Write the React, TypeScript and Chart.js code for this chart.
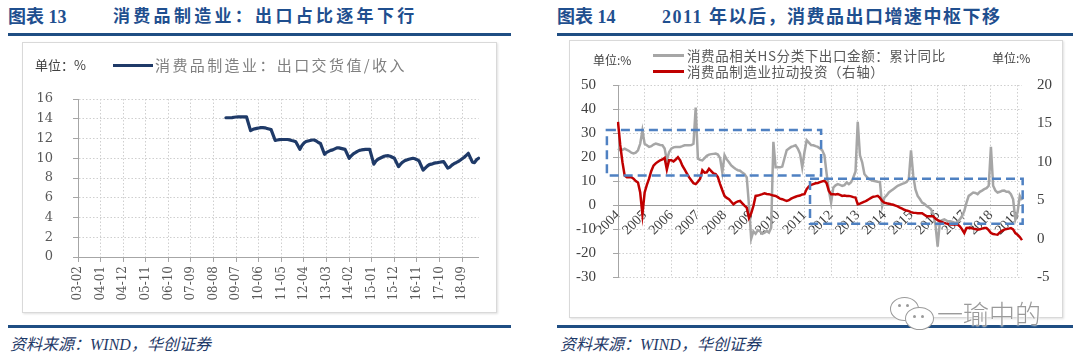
import React, { useEffect, useRef } from 'react';
import { Chart, registerables } from 'chart.js';

Chart.register(...registerables);

// ================= Chart 13 (left) data =================
const LEFT_FIRST_MONTH = [2003, 2];
const LEFT_LAST_MONTH = [2019, 5];
const LEFT_TICK_LABELS = [
  '03-02', '04-01', '04-12', '05-11', '06-10', '07-09', '08-08', '09-07', '10-06',
  '11-05', '12-04', '13-03', '14-02', '15-01', '15-12', '16-11', '17-10', '18-09',
];
const LEFT_Y_TICKS = [0, 2, 4, 6, 8, 10, 12, 14, 16];
const EXPORT_RATIO_FIRST = '09-01';
// 消费品制造业：出口交货值/收入 (%), monthly from 2009-01 (January not published)
const EXPORT_RATIO = [
  null, 14.1, 14.1, 14.1, 14.12, 14.15, 14.18, 14.2, 14.2, 14.2, 14.2, 14.2,
  null, 12.8, 12.9, 12.98, 13.02, 13.06, 13.1, 13.1, 13.08, 13.02, 12.96, 12.9,
  null, 11.8, 11.85, 11.88, 11.9, 11.9, 11.9, 11.9, 11.86, 11.8, 11.75, 11.68,
  null, 10.9, 11.3, 11.55, 11.7, 11.75, 11.8, 11.85, 11.85, 11.75, 11.6, 11.5,
  null, 10.4, 10.6, 10.7, 10.8, 10.85, 10.95, 11.05, 11.05, 11.0, 10.95, 10.9,
  null, 10.0, 10.25, 10.45, 10.57, 10.7, 10.8, 10.84, 10.87, 10.9, 10.9, 10.9,
  null, 9.4, 9.7, 9.9, 10.0, 10.1, 10.2, 10.25, 10.26, 10.2, 10.1, 10.0,
  null, 9.15, 9.4, 9.6, 9.75, 9.83, 9.9, 9.95, 10.0, 9.95, 9.85, 9.73,
  null, 8.8, 9.0, 9.2, 9.35, 9.4, 9.48, 9.53, 9.56, 9.6, 9.64, 9.66,
  null, 9.0, 9.1, 9.3, 9.45, 9.55, 9.66, 9.8, 9.95, 10.1, 10.3, 10.5,
  null, 9.6, 9.55, 9.85, 10.0,
];

// ================= Chart 14 (right) data =================
const RIGHT_FIRST_MONTH = [2004, 1];
const RIGHT_LAST_MONTH = [2019, 3];
const RIGHT_TICK_LABELS = [
  '2004', '2005', '2006', '2007', '2008', '2009', '2010', '2011',
  '2012', '2013', '2014', '2015', '2016', '2017', '2018', '2019',
];
// 消费品相关HS分类下出口金额：累计同比 (%, left axis), monthly from 2004-01
const HS_EXPORT_YOY = [
  23.5, 22.8, 23.0, 23.5, 23.0, 22.5, 21.8, 21.5, 21.8, 22.8, 25.5, 31.0,
  25.5, 24.9, 24.2, 24.5, 25.2, 25.6, 25.3, 25.0, 24.9, 23.5, 18.6, 22.0,
  23.5, 24.0, 24.2, 24.2, 24.2, 24.5, 24.9, 24.9, 24.9, 25.0, 25.5, 40.6,
  19.3, 18.8, 18.6, 19.5, 20.5, 21.0, 21.2, 21.3, 21.4, 21.0, 19.5, 13.6,
  20.7, 19.0, 17.8, 16.5, 15.7, 15.0, 14.5, 14.3, 13.5, 12.9, 11.5, 0.0,
  -14.0, -11.0, -12.0, -10.5, -11.0, -12.0, -11.5, -10.8, -11.5, -9.5, 26.3, 15.7,
  15.7, 15.7, 16.0, 19.5, 22.8, 23.5, 24.2, 24.5, 24.9, 23.5, 21.4, 15.7,
  22.0, 27.0, 26.0, 25.0, 24.9, 24.5, 24.2, 23.5, 22.8, 20.7, 13.0, 6.0,
  1.0, 7.3, 8.2, 8.7, 8.4, 8.0, 8.3, 9.4, 8.7, 9.5, 11.5, 14.0,
  34.7, 20.7, 17.8, 12.9, 11.8, 10.8, 10.4, 10.1, 9.9, 9.7, 9.6, -0.4,
  3.1, 4.0, 5.2, 5.9, 6.6, 7.3, 8.0, 8.4, 8.8, 9.1, 9.6, 10.8,
  22.8, 12.2, 6.5, 3.8, 2.5, 1.0, 0.5, -0.4, -1.0, -1.8, -3.9, -8.1,
  -17.3, -6.8, -6.3, -6.0, -6.5, -6.8, -6.9, -7.2, -7.5, -7.0, -6.0, -4.6,
  -2.5, 1.0, 3.8, 4.5, 5.2, 5.0, 4.5, 5.5, 6.0, 6.6, 7.0, 8.0,
  24.2, 8.0, 6.0, 5.2, 5.5, 5.9, 6.0, 5.5, 5.5, 4.5, 2.4, -6.0,
  -3.0, 3.8, 2.0,
];
// 消费品制造业拉动投资（右轴）(%), monthly from 2004-01
const CONSUMER_INVEST_PULL = [
  15.2, 12.2, 9.95, 8.2, 8.0, 8.0, 7.98, 7.8, 7.5, 7.3, 6.0, 3.15,
  6.0, 7.0, 7.8, 8.8, 9.5, 9.8, 10.0, 10.2, 10.3, 10.5, 9.0, 10.2,
  10.2, 10.05, 10.3, 10.6, 10.2, 9.5, 9.0, 8.5, 8.0, 7.6, 7.2, 7.1,
  7.4, 7.8, 8.9, 8.6, 8.64, 9.1, 8.8, 8.5, 8.4, 8.0, 7.1, 6.3,
  5.56, 5.3, 5.13, 4.8, 4.47, 4.7, 4.85, 4.9, 4.6, 4.3, 4.02, 2.7,
  3.3, 4.24, 5.56, 5.6, 5.7, 5.79, 5.9, 5.8, 5.79, 5.7, 5.6, 5.56,
  5.4, 5.2, 5.13, 5.0, 4.9, 5.0, 5.2, 5.34, 5.45, 5.56, 5.6, 5.75,
  5.79, 6.45, 6.8, 7.0, 7.1, 7.2, 7.24, 7.35, 7.45, 7.54, 7.2, 6.2,
  5.79, 5.79, 5.75, 5.79, 5.7, 5.56, 5.6, 5.56, 5.56, 5.5, 5.4, 5.34,
  4.47, 4.55, 4.68, 4.8, 4.95, 5.13, 5.3, 5.45, 5.5, 5.56, 5.3, 4.9,
  4.68, 4.6, 4.55, 4.47, 4.4, 4.3, 4.2, 4.02, 3.9, 3.75, 3.65, 3.58,
  3.45, 3.36, 3.35, 3.3, 3.3, 3.3, 3.1, 2.92, 2.92, 2.9, 2.92, 2.6,
  2.4, 2.26, 2.15, 2.04, 1.95, 1.9, 1.83, 1.83, 1.85, 1.83, 1.6, 1.2,
  0.72, 1.38, 1.4, 1.38, 1.3, 1.25, 1.17, 1.2, 1.3, 1.38, 1.38, 1.1,
  0.72, 0.6, 0.55, 0.51, 0.8, 1.0, 1.17, 1.25, 1.3, 1.38, 1.2, 0.72,
  0.5, 0.2, -0.2,
];
const RIGHT_Y_LEFT_TICKS = [-30, -20, -10, 0, 10, 20, 30, 40, 50];
const RIGHT_Y_RIGHT_TICKS = [-5, 0, 5, 10, 15, 20];
// Dashed highlight boxes (x in month-index units from 2004-01, y on left axis)
const BOX_X_START = [-5, 86.5];
const BOX_X_END = [91.5, 182.3];
const BOX_Y_TOP = [31.2, 10.9];
const BOX_Y_BOTTOM = [12.3, -7.8];

// ================= helpers =================
function monthRange(first: number[], last: number[], longYear: boolean): string[] {
  const out: string[] = [];
  let [y, m] = first;
  while (y < last[0] || (y === last[0] && m <= last[1])) {
    const yy = longYear ? String(y) : String(y % 100).padStart(2, '0');
    out.push(`${yy}-${String(m).padStart(2, '0')}`);
    m += 1;
    if (m > 12) { m = 1; y += 1; }
  }
  return out;
}

const NAVY = '#1f3a68';
const TITLE_BLUE = '#1f4f8f';
const RULE_BLUE = '#1f4e83';
const GRID = '#cfcfcf';
const AXIS = '#a6a6a6';

const LEFT_CATEGORIES = monthRange(LEFT_FIRST_MONTH, LEFT_LAST_MONTH, false);
const RIGHT_CATEGORIES = monthRange(RIGHT_FIRST_MONTH, RIGHT_LAST_MONTH, true);

function LeftChart() {
  const ref = useRef<HTMLCanvasElement | null>(null);
  useEffect(() => {
    if (!ref.current) return;
    const start = LEFT_CATEGORIES.indexOf(EXPORT_RATIO_FIRST);
    const data = LEFT_CATEGORIES.map((_, i) =>
      i >= start && i - start < EXPORT_RATIO.length ? EXPORT_RATIO[i - start] : null
    );
    const isLabeled = (i: number) => LEFT_TICK_LABELS.includes(LEFT_CATEGORIES[i]);
    const chart = new Chart(ref.current, {
      type: 'line',
      data: {
        labels: LEFT_CATEGORIES,
        datasets: [
          {
            label: '消费品制造业：出口交货值/收入',
            data,
            borderColor: NAVY,
            borderWidth: 3.2,
            pointRadius: 0,
            tension: 0,
            spanGaps: true,
            borderJoinStyle: 'round',
            borderCapStyle: 'round',
          },
        ],
      },
      options: {
        responsive: false,
        animation: false,
        layout: { padding: { left: 0, right: 7, top: 57, bottom: 0 } },
        plugins: { legend: { display: false }, tooltip: { enabled: false } },
        scales: {
          x: {
            type: 'category',
            offset: false,
            afterFit: (s: any) => { s.height = 56; },
            grid: {
              color: (c: any) => (isLabeled(c.index) ? GRID : 'rgba(0,0,0,0)'),
              tickColor: (c: any) => (isLabeled(c.index) ? AXIS : 'rgba(0,0,0,0)'),
              tickLength: 5,
              drawTicks: true,
            },
            border: { color: AXIS, width: 1, dash: [1.5, 2] },
            ticks: {
              autoSkip: false,
              minRotation: 90,
              maxRotation: 90,
              padding: 4,
              color: '#595959',
              font: { family: 'DejaVu Serif', size: 12 },
              callback: (_v: any, i: number) => (isLabeled(i) ? LEFT_CATEGORIES[i] : ''),
            },
          },
          y: {
            min: 0,
            max: 16,
            afterFit: (s: any) => { s.width = 56; },
            afterBuildTicks: (s: any) => { s.ticks = LEFT_Y_TICKS.map((v) => ({ value: v })); },
            grid: { color: GRID, tickColor: AXIS, tickLength: 5 },
            border: { color: AXIS, width: 1, dash: [1.5, 2] },
            ticks: {
              padding: 20,
              color: '#595959',
              font: { family: 'DejaVu Serif', size: 13 },
            },
          },
        },
      },
    });
    return () => chart.destroy();
  }, []);
  return (
    <canvas
      ref={ref}
      width={475}
      height={271}
      style={{ position: 'absolute', left: 22, top: 42, width: 475, height: 271 }}
    />
  );
}

const dashedBoxes = {
  id: 'dashedBoxes',
  afterDatasetsDraw(chart: any) {
    const { ctx } = chart;
    const x = chart.scales.x;
    const y = chart.scales.y;
    ctx.save();
    ctx.strokeStyle = '#4f81c2';
    ctx.lineWidth = 2.5;
    ctx.setLineDash([9, 5]);
    BOX_X_START.forEach((xs, i) => {
      const x0 = x.getPixelForValue(xs);
      const x1 = x.getPixelForValue(BOX_X_END[i]);
      const y0 = y.getPixelForValue(BOX_Y_TOP[i]);
      const y1 = y.getPixelForValue(BOX_Y_BOTTOM[i]);
      ctx.strokeRect(x0, y0, x1 - x0, y1 - y0);
    });
    ctx.restore();
  },
};

function RightChart() {
  const ref = useRef<HTMLCanvasElement | null>(null);
  useEffect(() => {
    if (!ref.current) return;
    const yearOf = (i: number) => {
      const c = RIGHT_CATEGORIES[i] || '';
      const yr = c.slice(0, 4);
      return c.endsWith('-01') && RIGHT_TICK_LABELS.includes(yr) ? yr : '';
    };
    const chart = new Chart(ref.current, {
      type: 'line',
      data: {
        labels: RIGHT_CATEGORIES,
        datasets: [
          {
            label: '消费品相关HS分类下出口金额：累计同比',
            data: HS_EXPORT_YOY,
            borderColor: '#a6a6a6',
            borderWidth: 2.5,
            pointRadius: 0,
            tension: 0,
            yAxisID: 'y',
            order: 2,
          },
          {
            label: '消费品制造业拉动投资（右轴）',
            data: CONSUMER_INVEST_PULL,
            borderColor: '#c00000',
            borderWidth: 2.5,
            pointRadius: 0,
            tension: 0,
            yAxisID: 'y1',
            order: 1,
          },
        ],
      },
      options: {
        responsive: false,
        animation: false,
        layout: { padding: { left: 0, right: 0, top: 45, bottom: 41 } },
        plugins: { legend: { display: false }, tooltip: { enabled: false } },
        scales: {
          x: {
            type: 'category',
            position: { y: 0 } as any,
            offset: false,
            grid: {
              color: (c: any) => (yearOf(c.index) ? GRID : 'rgba(0,0,0,0)'),
              drawTicks: false,
            },
            border: { color: '#9a9a9a', width: 1, dash: [1.5, 2] },
            ticks: {
              autoSkip: false,
              minRotation: 45,
              maxRotation: 45,
              padding: 2,
              color: '#404040',
              font: { family: 'Liberation Serif', size: 14 },
              callback: (_v: any, i: number) => yearOf(i),
            },
          },
          y: {
            position: 'left',
            min: -30,
            max: 50,
            afterFit: (s: any) => { s.width = 49; },
            afterBuildTicks: (s: any) => { s.ticks = RIGHT_Y_LEFT_TICKS.map((v) => ({ value: v })); },
            grid: { color: GRID, tickColor: AXIS, tickLength: 5 },
            border: { color: AXIS, width: 1, dash: [1.5, 2] },
            ticks: {
              padding: 17,
              color: '#404040',
              font: { family: 'Liberation Serif', size: 15 },
            },
          },
          y1: {
            position: 'right',
            min: -5,
            max: 20,
            afterFit: (s: any) => { s.width = 41; },
            afterBuildTicks: (s: any) => { s.ticks = RIGHT_Y_RIGHT_TICKS.map((v) => ({ value: v })); },
            grid: { display: false, drawTicks: false },
            border: { display: false },
            ticks: {
              padding: 15,
              color: '#404040',
              font: { family: 'Liberation Serif', size: 15 },
            },
          },
        },
      },
      plugins: [dashedBoxes],
    });
    return () => chart.destroy();
  }, []);
  return (
    <canvas
      ref={ref}
      width={494}
      height={278}
      style={{ position: 'absolute', left: 569, top: 40, width: 494, height: 278 }}
    />
  );
}

const abs = (s: React.CSSProperties): React.CSSProperties => ({ position: 'absolute', ...s });
const titleFont = '"Liberation Serif", "Noto Sans CJK SC", serif';
const cjk = '"Noto Sans CJK SC", sans-serif';

export default function App() {
  return (
    <div style={abs({ left: 0, top: 0, width: 1080, height: 362, background: '#fff', overflow: 'hidden' })}>
      {/* ---------- Left panel ---------- */}
      <div style={abs({ left: 8, top: 5, fontFamily: titleFont, fontWeight: 700, fontSize: 18, color: TITLE_BLUE, lineHeight: '24px', whiteSpace: 'nowrap' })}>图表 13</div>
      <div style={abs({ left: 113, top: 5, fontFamily: titleFont, fontWeight: 700, fontSize: 17, letterSpacing: 3.3, color: TITLE_BLUE, lineHeight: '24px', whiteSpace: 'nowrap' })}>消费品制造业：出口占比逐年下行</div>
      <div style={abs({ left: 8, top: 33, width: 503, height: 3, background: RULE_BLUE })} />
      <div style={abs({ left: 22, top: 42, width: 473, height: 269, border: '1px solid #d9d9d9', boxShadow: '1px 1px 2px rgba(0,0,0,0.12)' })} />
      <LeftChart />
      <div style={abs({ left: 35, top: 56, fontFamily: cjk, fontSize: 13, color: '#404040', lineHeight: '18px', whiteSpace: 'nowrap' })}>单位：%</div>
      <div style={abs({ left: 113, top: 64, width: 40, height: 3, background: NAVY })} />
      <div style={abs({ left: 155, top: 55, fontFamily: cjk, fontSize: 15, letterSpacing: 2.4, color: '#808080', lineHeight: '20px', whiteSpace: 'nowrap' })}>消费品制造业：出口交货值/收入</div>
      <div style={abs({ left: 8, top: 325, width: 503, height: 3, background: RULE_BLUE })} />
      <div style={abs({ left: 10, top: 334, fontFamily: titleFont, fontStyle: 'italic', fontSize: 16, color: NAVY, lineHeight: '22px', whiteSpace: 'nowrap' })}>资料来源：WIND，华创证券</div>

      {/* ---------- Right panel ---------- */}
      <div style={abs({ left: 557, top: 5, fontFamily: titleFont, fontWeight: 700, fontSize: 18, color: TITLE_BLUE, lineHeight: '24px', whiteSpace: 'nowrap' })}>图表 14</div>
      <div style={abs({ left: 662, top: 5, fontFamily: titleFont, fontWeight: 700, fontSize: 18, letterSpacing: 1.5, color: TITLE_BLUE, lineHeight: '24px', whiteSpace: 'nowrap' })}>2011 年以后，消费品出口增速中枢下移</div>
      <div style={abs({ left: 557, top: 33, width: 516, height: 3, background: RULE_BLUE })} />
      <div style={abs({ left: 569, top: 40, width: 492, height: 276, border: '1px solid #d9d9d9', boxShadow: '1px 1px 2px rgba(0,0,0,0.12)' })} />
      <RightChart />
      <div style={abs({ left: 593, top: 52, fontFamily: cjk, fontSize: 12, color: '#404040', lineHeight: '16px', whiteSpace: 'nowrap' })}>单位:%</div>
      <div style={abs({ left: 653, top: 54, width: 31, height: 2.5, background: '#a6a6a6' })} />
      <div style={abs({ left: 687, top: 46, fontFamily: cjk, fontSize: 13.5, letterSpacing: 0.6, color: '#595959', lineHeight: '18px', whiteSpace: 'nowrap' })}>消费品相关HS分类下出口金额：累计同比</div>
      <div style={abs({ left: 653, top: 70, width: 31, height: 2.5, background: '#c00000' })} />
      <div style={abs({ left: 687, top: 62, fontFamily: cjk, fontSize: 13.5, letterSpacing: 0.6, color: '#595959', lineHeight: '18px', whiteSpace: 'nowrap' })}>消费品制造业拉动投资（右轴）</div>
      <div style={abs({ left: 992, top: 50, fontFamily: cjk, fontSize: 12, color: '#404040', lineHeight: '16px', whiteSpace: 'nowrap' })}>单位:%</div>
      <div style={abs({ left: 557, top: 325, width: 516, height: 3, background: RULE_BLUE })} />
      <div style={abs({ left: 560, top: 334, fontFamily: titleFont, fontStyle: 'italic', fontSize: 16, color: NAVY, lineHeight: '22px', whiteSpace: 'nowrap' })}>资料来源：WIND，华创证券</div>

      {/* ---------- watermark ---------- */}
      <div style={abs({ left: 890, top: 297, width: 27, height: 22, borderRadius: '50%', border: '1.5px solid #9a9a9a', background: '#fff' })} />
      <div style={abs({ left: 905, top: 307, width: 27, height: 21, borderRadius: '50%', border: '1.5px solid #9a9a9a', background: '#fff' })} />
      <div style={abs({ left: 898, top: 304, width: 3, height: 3, borderRadius: '50%', background: '#9a9a9a' })} />
      <div style={abs({ left: 906, top: 304, width: 3, height: 3, borderRadius: '50%', background: '#9a9a9a' })} />
      <div style={abs({ left: 913, top: 315, width: 3, height: 3, borderRadius: '50%', background: '#9a9a9a' })} />
      <div style={abs({ left: 921, top: 315, width: 3, height: 3, borderRadius: '50%', background: '#9a9a9a' })} />
      <div style={abs({ left: 937, top: 296, fontFamily: cjk, fontSize: 26, fontWeight: 300, color: '#9a9a9a', lineHeight: '34px', whiteSpace: 'nowrap', textShadow: '0 0 2px #fff, 0 0 2px #fff' })}>一瑜中的</div>
    </div>
  );
}
